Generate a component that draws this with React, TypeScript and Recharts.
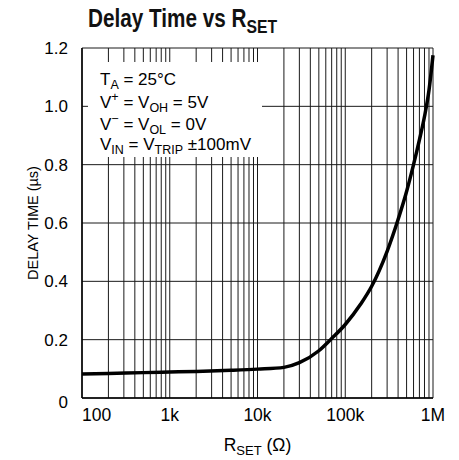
import React from "react";
import { LineChart, Line, XAxis, YAxis, CartesianGrid } from "recharts";

// R_SET in ohms and delay time in microseconds
const rSet = [
  100, 200, 500, 1000, 2000, 5000, 10000, 20000, 30000, 50000, 70000, 100000,
  150000, 200000, 300000, 400000, 500000, 600000, 700000, 800000, 900000,
  1000000,
];
const delayTime = [
  0.082, 0.084, 0.087, 0.089, 0.091, 0.095, 0.099, 0.105, 0.121, 0.162, 0.204,
  0.252, 0.322, 0.383, 0.503, 0.612, 0.708, 0.8, 0.885, 0.965, 1.055, 1.175,
];

const decadeTicks = [100, 1000, 10000, 100000, 1000000];
const decadeLabels = ["100", "1k", "10k", "100k", "1M"];
const minorSteps = [1, 2, 3, 4, 5, 6, 7, 8, 9];
const yTicks = [0, 0.2, 0.4, 0.6, 0.8, 1.0, 1.2];
const yLabels = ["0", "0.2", "0.4", "0.6", "0.8", "1.0", "1.2"];

const xGrid = decadeTicks
  .slice(0, -1)
  .flatMap((d) => minorSteps.map((m) => d * m))
  .concat([1000000]);

const data = rSet.map((r, i) => ({ r, delay: delayTime[i] }));

const FONT = "'Liberation Sans', Arial, Helvetica, sans-serif";

if (typeof document !== "undefined") {
  document.body.style.margin = "0";
}

const XTick = (props: any) => {
  const { x, y, payload } = props;
  const idx = decadeTicks.indexOf(payload.value);
  if (idx < 0) return null;
  return (
    <text
      x={x}
      y={y + 15}
      textAnchor={idx === 0 ? "start" : "middle"}
      fontSize={17.5}
      fontFamily={FONT}
      fill="#000"
    >
      {decadeLabels[idx]}
    </text>
  );
};

const YTick = (props: any) => {
  const { x, y, payload } = props;
  const idx = yTicks.indexOf(payload.value);
  return (
    <text
      x={x - 6}
      y={y + (idx === 0 ? 10 : 6)}
      textAnchor="end"
      fontSize={17}
      fontFamily={FONT}
      fill="#000"
    >
      {yLabels[idx]}
    </text>
  );
};

const XLabel = (props: any) => {
  const { viewBox } = props;
  const cx = viewBox.x + viewBox.width / 2;
  return (
    <text
      x={cx}
      y={viewBox.y + 53}
      textAnchor="middle"
      fontSize={17.5}
      fontFamily={FONT}
      fill="#000"
    >
      R
      <tspan fontSize={13} dy={4}>
        SET
      </tspan>
      <tspan dy={-4}> (Ω)</tspan>
    </text>
  );
};

const YLabel = (props: any) => {
  const { viewBox } = props;
  const cy = viewBox.y + viewBox.height / 2;
  return (
    <text
      x={38}
      y={cy}
      transform={`rotate(-90 38 ${cy})`}
      textAnchor="middle"
      fontSize={14.5}
      fontFamily={FONT}
      fill="#000"
    >
      DELAY TIME (µs)
    </text>
  );
};

const Overlay = () => (
  <svg
    width={459}
    height={460}
    style={{ position: "absolute", left: 0, top: 0, pointerEvents: "none" }}
  >
    <text
      x={88}
      y={27}
      fontSize={25}
      fontWeight="bold"
      fontFamily={FONT}
      fill="#111"
      textLength={189}
      lengthAdjust="spacingAndGlyphs"
    >
      Delay Time vs R
      <tspan fontSize={19} dy={6}>
        SET
      </tspan>
    </text>
    <rect x={88} y={62} width={174} height={95} fill="#fff" />
    <g fontFamily={FONT} fontSize={17} fill="#000">
      <text x={100} y={85}>
        T<tspan fontSize={12.5} dy={4}>A</tspan>
        <tspan dy={-4}> = 25°C</tspan>
      </text>
      <text x={100} y={108}>
        V<tspan fontSize={12.5} dy={-7}>+</tspan>
        <tspan dy={7}> = V</tspan>
        <tspan fontSize={12.5} dy={4}>OH</tspan>
        <tspan dy={-4}> = 5V</tspan>
      </text>
      <text x={100} y={130}>
        V<tspan fontSize={12.5} dy={-7}>−</tspan>
        <tspan dy={7}> = V</tspan>
        <tspan fontSize={12.5} dy={4}>OL</tspan>
        <tspan dy={-4}> = 0V</tspan>
      </text>
      <text x={100} y={150}>
        V<tspan fontSize={12.5} dy={4}>IN</tspan>
        <tspan dy={-4}> = V</tspan>
        <tspan fontSize={12.5} dy={4}>TRIP</tspan>
        <tspan dy={-4}> ±100mV</tspan>
      </text>
    </g>
  </svg>
);

export default function App() {
  return (
    <div style={{ position: "relative", width: 459, height: 460, background: "#fff" }}>
      <LineChart
        width={459}
        height={460}
        data={data}
        margin={{ top: 48, right: 26, bottom: 22, left: 22 }}
      >
        <CartesianGrid stroke="#1a1a1a" strokeWidth={1} />
        <XAxis
          dataKey="r"
          type="number"
          scale="log"
          domain={[100, 1000000]}
          ticks={xGrid}
          interval={0}
          tick={<XTick />}
          tickLine={false}
          axisLine={{ stroke: "#000", strokeWidth: 1.5 }}
          height={40}
          label={<XLabel />}
        />
        <YAxis
          type="number"
          domain={[0, 1.2]}
          ticks={yTicks}
          interval={0}
          tick={<YTick />}
          tickLine={false}
          axisLine={{ stroke: "#000", strokeWidth: 1.5 }}
          width={60}
          label={<YLabel />}
        />
        <Line
          type="monotone"
          dataKey="delay"
          stroke="#000"
          strokeWidth={3.5}
          dot={false}
          isAnimationActive={false}
        />
      </LineChart>
      <Overlay />
    </div>
  );
}
